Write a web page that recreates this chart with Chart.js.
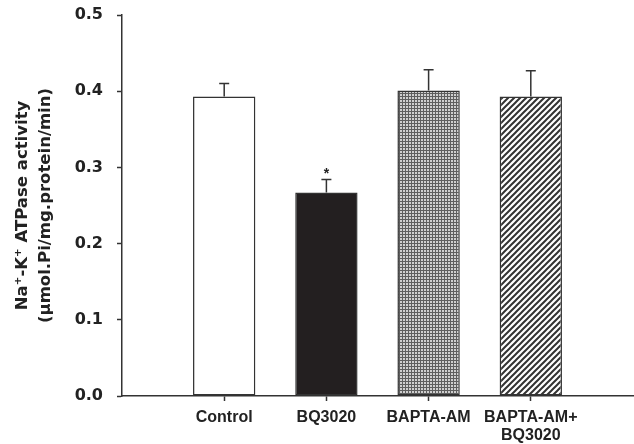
<!DOCTYPE html>
<html>
<head>
<meta charset="utf-8">
<script src="https://cdn.jsdelivr.net/npm/chart.js@4.4.1/dist/chart.umd.min.js"></script>
<style>
  html, body { margin: 0; padding: 0; background: #fff; }
  #wrap { width: 634px; height: 444px; }
</style>
</head>
<body>
<div id="wrap"><canvas id="atpaseChart"></canvas></div>
<script>
// data
const groupLabels = [["Control"], ["BQ3020"], ["BAPTA-AM"], ["BAPTA-AM+", "BQ3020"]];
const groupPos = [1, 2, 3, 4];
const meanValues = [0.393, 0.267, 0.401, 0.393];
const semValues = [0.017, 0.017, 0.027, 0.034];
const starMarks = ["", "*", "", ""];
const yTicks = [0, 0.1, 0.2, 0.3, 0.4, 0.5];

const axisColor = "#333";
const sansFam = "'Liberation Sans', Arial, Helvetica, sans-serif";
const wideFam = "'DejaVu Sans', 'Liberation Sans', sans-serif";

// fill patterns
function crossPattern() {
  const c = document.createElement("canvas");
  c.width = 3; c.height = 3;
  const g = c.getContext("2d");
  g.fillStyle = "#cfcfcf";
  g.fillRect(0, 0, 3, 3);
  g.fillStyle = "#5e5e5e";
  g.fillRect(0, 0, 3, 1);
  g.fillRect(0, 0, 1, 3);
  return g.createPattern(c, "repeat");
}

function hatchPattern() {
  const s = 6;
  const c = document.createElement("canvas");
  c.width = s; c.height = s;
  const g = c.getContext("2d");
  g.fillStyle = "#fff";
  g.fillRect(0, 0, s, s);
  g.strokeStyle = "#333";
  g.lineWidth = 2;
  g.beginPath();
  g.moveTo(-1, s + 1); g.lineTo(s + 1, -1);
  g.moveTo(-1, 1); g.lineTo(1, -1);
  g.moveTo(s - 1, s + 1); g.lineTo(s + 1, s - 1);
  g.stroke();
  return g.createPattern(c, "repeat");
}

const barFills = ["#ffffff", "#231f20", crossPattern(), hatchPattern()];

// upward error bars + significance star
const errorBars = {
  id: "errorBars",
  afterDatasetsDraw(chart) {
    const ctx = chart.ctx;
    const y = chart.scales.y;
    const meta = chart.getDatasetMeta(0);
    ctx.save();
    ctx.strokeStyle = axisColor;
    ctx.lineWidth = 1.5;
    meta.data.forEach((bar, i) => {
      const top = y.getPixelForValue(meanValues[i] + semValues[i]);
      ctx.beginPath();
      ctx.moveTo(bar.x, bar.y);
      ctx.lineTo(bar.x, top);
      ctx.moveTo(bar.x - 5, top);
      ctx.lineTo(bar.x + 5, top);
      ctx.stroke();
      if (starMarks[i]) {
        ctx.fillStyle = "#222";
        ctx.font = "bold 14px " + sansFam;
        ctx.textAlign = "center";
        ctx.textBaseline = "bottom";
        ctx.fillText(starMarks[i], bar.x, top + 2);
      }
    });
    ctx.restore();
  }
};

new Chart(document.getElementById("atpaseChart"), {
  type: "bar",
  data: {
    datasets: [
      {
        data: groupPos.map((p, i) => ({ x: p, y: meanValues[i] })),
        backgroundColor: barFills,
        borderColor: axisColor,
        borderWidth: 1.5,
        borderSkipped: false,
        barPercentage: 0.61,
        categoryPercentage: 1,
      },
    ],
  },
  options: {
    responsive: true,
    maintainAspectRatio: false,
    animation: false,
    layout: { autoPadding: false, padding: { top: 15, right: 1, left: 0, bottom: 0 } },
    plugins: {
      legend: { display: false },
      tooltip: { enabled: false },
    },
    scales: {
      x: {
        type: "linear",
        min: 0,
        max: 5,
        offset: false,
        afterBuildTicks: (s) => { s.ticks = groupPos.map((v) => ({ value: v })); },
        afterFit: (s) => { s.height = 48; s.paddingLeft = 0; s.paddingRight = 0; },
        grid: { display: true, drawOnChartArea: false, offset: false, tickLength: 5, tickColor: axisColor, tickWidth: 1.5 },
        border: { display: true, color: axisColor, width: 1.5 },
        ticks: {
          autoSkip: false,
          maxRotation: 0,
          padding: 7,
          color: "#222",
          font: { family: sansFam, size: 16, weight: "bold", lineHeight: 1.15 },
          callback: (v) => groupLabels[groupPos.indexOf(v)] || "",
        },
      },
      y: {
        min: 0,
        max: 0.5,
        afterBuildTicks: (s) => { s.ticks = yTicks.map((v) => ({ value: v })); },
        afterFit: (s) => { s.width = 122; s.paddingTop = 0; s.paddingBottom = 0; },
        grid: { display: true, drawOnChartArea: false, tickLength: 5, tickColor: axisColor, tickWidth: 1.5 },
        border: { display: true, color: axisColor, width: 1.5 },
        ticks: {
          padding: 14,
          color: "#222",
          font: { family: wideFam, size: 16, weight: "bold" },
          callback: (v) => v.toFixed(1),
        },
        title: {
          display: true,
          text: ["Na\u207A-K\u207A ATPase activity", "(\u00B5mol.Pi/mg.protein/min)"],
          color: "#222",
          font: { family: wideFam, size: 16.5, weight: "bold", lineHeight: 1.4 },
          padding: { top: 11, bottom: 0 },
        },
      },
    },
  },
  plugins: [errorBars],
});
</script>
</body>
</html>
